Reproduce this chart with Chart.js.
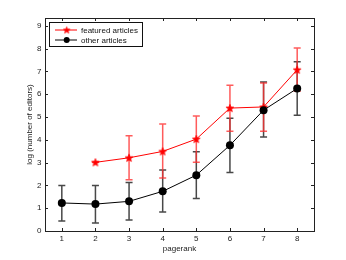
<!DOCTYPE html>
<html><head><meta charset="utf-8">
<script src="https://cdn.jsdelivr.net/npm/chart.js@4/dist/chart.umd.min.js"></script>
<style>html,body{margin:0;padding:0;background:#fff;}#wrap{width:346px;height:260px;}</style>
</head><body><div id="wrap"><canvas id="c" width="346" height="260"></canvas></div>
<script>
const categories = [1, 2, 3, 4, 5, 6, 7, 8];
const xTicks = [1, 2, 3, 4, 5, 6, 7, 8];
const yTicks = [0, 1, 2, 3, 4, 5, 6, 7, 8, 9];
const featured      = [null, 3.01, 3.21, 3.49, 4.03, 5.39, 5.44, 7.07];
const featuredUpper = [null, 3.01, 4.18, 4.69, 5.04, 6.39, 6.49, 8.02];
const featuredLower = [null, 3.01, 2.25, 2.32, 3.02, 4.37, 4.37, 6.13];
const other      = [1.23, 1.18, 1.30, 1.74, 2.45, 3.76, 5.30, 6.25];
const otherUpper = [2.00, 1.99, 2.13, 2.67, 3.48, 4.94, 6.53, 7.42];
const otherLower = [0.44, 0.35, 0.48, 0.83, 1.43, 2.57, 4.12, 5.08];
const seriesNames = ['featured articles', 'other articles'];
const xTitle = 'pagerank';
const yTitle = 'log (number of editors)';

const FONT = '8px "Liberation Sans", Arial, sans-serif';

function starImg(color, R, r) {
  const n = Math.ceil(R * 2 + 2);
  const c = document.createElement('canvas');
  c.width = n; c.height = n;
  const g = c.getContext('2d');
  g.beginPath();
  const cx = n / 2, cy = n / 2 + 0.3;
  for (let i = 0; i < 10; i++) {
    const a = -Math.PI / 2 + i * Math.PI / 5;
    const rr = i % 2 ? r : R;
    const px = cx + rr * Math.cos(a), py = cy + rr * Math.sin(a);
    i ? g.lineTo(px, py) : g.moveTo(px, py);
  }
  g.closePath();
  g.fillStyle = color; g.fill();
  g.strokeStyle = color; g.lineWidth = 0.8; g.stroke();
  return c;
}
const star = starImg('#ff0000', 4, 1.7);
const starSmall = starImg('#ff0000', 3.4, 1.4);

const pts = (arr) => categories.map((x, i) => ({x, y: arr[i]})).filter(p => p.y !== null);

const errPlugin = {
  id: 'err',
  beforeDatasetsDraw(chart) {
    const ctx = chart.ctx, xs = chart.scales.x, ys = chart.scales.y;
    const sets = [
      {lo: otherLower, hi: otherUpper, col: 'rgba(40,40,40,0.85)'},
      {lo: featuredLower, hi: featuredUpper, col: 'rgba(255,50,50,0.8)'}
    ];
    ctx.save();
    ctx.lineWidth = 1.5;
    sets.forEach(s => {
      ctx.strokeStyle = s.col;
      categories.forEach((c, i) => {
        if (s.lo[i] === null) return;
        const px = xs.getPixelForValue(c);
        const y1 = ys.getPixelForValue(s.lo[i]), y2 = ys.getPixelForValue(s.hi[i]);
        ctx.beginPath();
        ctx.moveTo(px, y1); ctx.lineTo(px, y2);
        ctx.moveTo(px - 3.5, y1); ctx.lineTo(px + 3.5, y1);
        ctx.moveTo(px - 3.5, y2); ctx.lineTo(px + 3.5, y2);
        ctx.stroke();
      });
    });
    ctx.restore();
  },
  afterDraw(chart) {
    const ctx = chart.ctx, xs = chart.scales.x, ys = chart.scales.y;
    const a = chart.chartArea;
    ctx.save();
    ctx.strokeStyle = '#222'; ctx.lineWidth = 1;
    ctx.strokeRect(Math.round(a.left) + 0.5, Math.round(a.top) + 0.5, Math.round(a.right - a.left), Math.round(a.bottom - a.top));
    ctx.beginPath();
    xTicks.forEach(t => {
      const px = Math.round(xs.getPixelForValue(t)) + 0.5;
      ctx.moveTo(px, a.bottom); ctx.lineTo(px, a.bottom - 3);
      ctx.moveTo(px, a.top); ctx.lineTo(px, a.top + 3);
    });
    yTicks.forEach(t => {
      const py = Math.round(ys.getPixelForValue(t)) + 0.5;
      ctx.moveTo(a.left, py); ctx.lineTo(a.left + 3, py);
      ctx.moveTo(a.right, py); ctx.lineTo(a.right - 3, py);
    });
    ctx.stroke();
    ctx.fillStyle = '#222'; ctx.font = FONT;
    ctx.textAlign = 'center'; ctx.textBaseline = 'middle';
    xTicks.forEach(t => ctx.fillText(String(t), xs.getPixelForValue(t), 238.5));
    ctx.textAlign = 'right';
    yTicks.forEach(t => ctx.fillText(String(t), 41.5, ys.getPixelForValue(t)));
    ctx.textAlign = 'center';
    ctx.fillText(xTitle, (a.left + a.right) / 2, 248.5);
    ctx.save();
    ctx.translate(30, (a.top + a.bottom) / 2);
    ctx.rotate(-Math.PI / 2);
    ctx.fillText(yTitle, 0, 0);
    ctx.restore();
    // legend
    const lx = 49.5, ly = 22.5, lw = 93, lh = 24;
    ctx.fillStyle = '#fff'; ctx.fillRect(lx, ly, lw, lh);
    ctx.strokeStyle = '#111'; ctx.strokeRect(lx, ly, lw, lh);
    const rows = [
      {y: 30, col: '#ff0000', name: seriesNames[0], mk: 'star'},
      {y: 40, col: '#000', name: seriesNames[1], mk: 'circle'}
    ];
    rows.forEach(r => {
      ctx.strokeStyle = r.col; ctx.lineWidth = 1;
      ctx.beginPath(); ctx.moveTo(55, r.y); ctx.lineTo(77, r.y); ctx.stroke();
      if (r.mk === 'star') ctx.drawImage(starSmall, 66.7 - starSmall.width / 2, r.y - starSmall.height / 2);
      else { ctx.fillStyle = '#000'; ctx.beginPath(); ctx.arc(66.7, r.y, 3, 0, Math.PI * 2); ctx.fill(); }
      ctx.fillStyle = '#111'; ctx.textAlign = 'left';
      ctx.fillText(r.name, 81, r.y + 0.5);
    });
    ctx.restore();
  }
};

new Chart(document.getElementById('c'), {
  type: 'line',
  data: {
    datasets: [
      {label: seriesNames[1], data: pts(other), borderColor: '#000', backgroundColor: '#000', borderWidth: 1,
       pointStyle: 'circle', pointRadius: 4, pointBorderWidth: 0, tension: 0},
      {label: seriesNames[0], data: pts(featured), borderColor: '#ff0000', backgroundColor: '#ff0000', borderWidth: 1,
       pointStyle: star, pointRadius: 4, tension: 0}
    ]
  },
  options: {
    responsive: false, animation: false, events: [],
    layout: {padding: {left: 45, right: 32, top: 18, bottom: 29}},
    plugins: {legend: {display: false}, tooltip: {enabled: false}},
    scales: {
      x: {type: 'linear', min: 0.5, max: 8.5, display: false,
          afterBuildTicks: s => { s.ticks = xTicks.map(v => ({value: v})); }},
      y: {type: 'linear', min: 0, max: 9.34, display: false,
          afterBuildTicks: s => { s.ticks = yTicks.map(v => ({value: v})); }}
    }
  },
  plugins: [errPlugin]
});
</script></body></html>
